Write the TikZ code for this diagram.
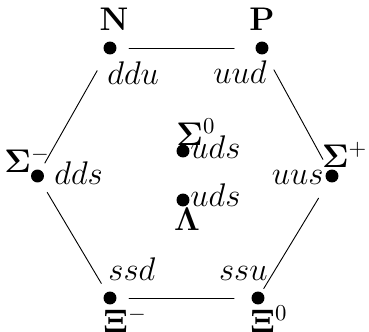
\documentclass[tikz,border=0pt]{standalone}
\begin{document}
\begin{tikzpicture}[x=0.44pt, y=-0.44pt, font=\Large, line join=round, line cap=round,
	quark/.style={circle, fill, inner sep=0pt, minimum size=5.7pt},
	lbl/.style={inner sep=0pt}]
	\useasboundingbox (0,0) rectangle (369,331);
	\node[quark] (N) at (110,48) {};
	\node[quark] (P) at (262,48) {};
	\node[quark] (Sm) at (37.5,176) {};
	\node[quark] (Sp) at (332,176) {};
	\node[quark] (Xm) at (110,298) {};
	\node[quark] (Xz) at (258,298) {};
	\node[quark] (Sz) at (183,151) {};
	\node[quark] (L) at (183,200) {};
	\node[lbl, anchor=base] (Nname) at (114,30) {$\mathbf{N}$};
	\node[lbl, anchor=base] (Pname) at (262,30) {$\mathbf{P}$};
	\node[lbl, anchor=base west] (Smname) at (4,172) {$\mathbf{\Sigma}^-$};
	\node[lbl, anchor=base east] (Spname) at (368,167) {$\mathbf{\Sigma}^+$};
	\node[lbl, anchor=base west] (Szname) at (176,145) {$\mathbf{\Sigma}^0$};
	\node[lbl, anchor=base] (Lname) at (187,230) {$\mathbf{\Lambda}$};
	\node[lbl, anchor=base west] (Xmname) at (103,332) {$\mathbf{\Xi}^-$};
	\node[lbl, anchor=base west] (Xzname) at (250,332) {$\mathbf{\Xi}^0$};
	\node[lbl, anchor=base west] (Nq) at (107,84) {$ddu$};
	\node[lbl, anchor=base east] (Pq) at (267,83) {$uud$};
	\node[lbl, anchor=base west] (Smq) at (54,184) {$dds$};
	\node[lbl, anchor=base east] (Spq) at (324,184) {$uus$};
	\node[lbl, anchor=base west] (Szq) at (190,158) {$uds$};
	\node[lbl, anchor=base west] (Lq) at (190,206) {$uds$};
	\node[lbl, anchor=base west] (Xmq) at (108,280) {$ssd$};
	\node[lbl, anchor=base east] (Xzq) at (268,280) {$ssu$};
	% hexagon
	\draw[shorten <=5.3pt, shorten >=9.2pt] (N) -- (P);
	\draw[shorten <=7.9pt, shorten >=5.3pt] (P) -- (Sp);
	\draw[shorten <=8.4pt, shorten >=1.8pt] (Sp) -- (Xz);
	\draw[shorten <=7.5pt, shorten >=5.3pt] (Xz) -- (Xm);
	\draw[shorten <=4.4pt, shorten >=5.3pt] (Xm) -- (Sm);
	\draw[shorten <=3.5pt, shorten >=8.4pt] (Sm) -- (N);
\end{tikzpicture}
\end{document}
